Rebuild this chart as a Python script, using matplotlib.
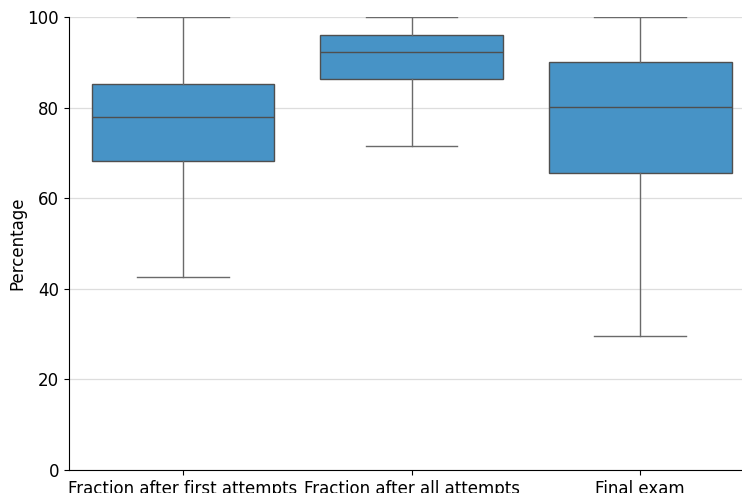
import matplotlib
matplotlib.use("Agg")
import matplotlib.pyplot as plt

# Summary statistics per group (percent)
categories = ["Fraction after first attempts", "Fraction after all attempts", "Final exam"]
whisker_low = [42.6, 71.5, 29.6]
q1 = [68.2, 86.3, 65.6]
median = [77.9, 92.3, 80.1]
q3 = [85.2, 96.0, 90.1]
whisker_high = [100.0, 100.0, 100.0]
y_ticks = [0, 20, 40, 60, 80, 100]

box_color = "#4793c6"
line_color = "#4f4f4f"

fig = plt.figure(figsize=(7.42, 4.93), dpi=100)
ax = fig.add_axes([0.0927, 0.0467, 0.924, 0.9189])

stats = []
for name, lo, a, m, b, hi in zip(categories, whisker_low, q1, median, q3, whisker_high):
    stats.append(dict(label=name, whislo=lo, q1=a, med=m, q3=b, whishi=hi, fliers=[]))

ax.bxp(
    stats,
    positions=range(len(categories)),
    widths=0.8,
    patch_artist=True,
    showfliers=False,
    boxprops=dict(facecolor=box_color, edgecolor=line_color, linewidth=1.0),
    medianprops=dict(color=line_color, linewidth=1.0),
    whiskerprops=dict(color="#6a6a6a", linewidth=1.0),
    capprops=dict(color="#6a6a6a", linewidth=1.0),
    capwidths=0.4,
    zorder=3,
)

ax.set_xlim(-0.5, 2.5)
ax.set_ylim(0, 100)
ax.set_yticks(y_ticks)
ax.set_xticks(range(len(categories)))
ax.set_xticklabels(categories, fontsize=12)
ax.tick_params(axis="y", labelsize=12)
ax.set_ylabel("Percentage", fontsize=12, labelpad=1)
ax.yaxis.grid(True, color="#dddddd", linewidth=0.9, zorder=0)
ax.set_axisbelow(True)
for side in ("top", "right"):
    ax.spines[side].set_visible(False)

fig.savefig("out.png", dpi=100)
